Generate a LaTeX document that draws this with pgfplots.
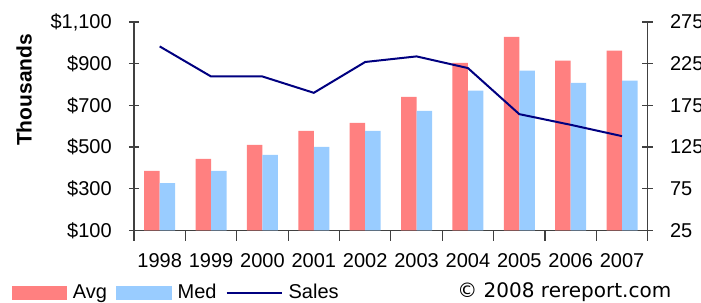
\documentclass[border=0pt]{standalone}
\usepackage{fontspec}
\setmainfont{Liberation Sans}
\newfontfamily\dejavu{DejaVu Sans}
\usepackage{pgfplots}
\pgfplotsset{compat=1.18}
\definecolor{avgc}{HTML}{FF8080}
\definecolor{medc}{HTML}{99CCFF}
\definecolor{salesc}{HTML}{000080}
\definecolor{axc}{HTML}{404040}
\begin{document}
\begin{tikzpicture}
\useasboundingbox (0,0) rectangle (350.5pt,151.5pt);
\begin{axis}[
  at={(67pt,36.35pt)}, anchor=south west,
  width=256.85pt, height=104.15pt, scale only axis,
  xmin=-0.5, xmax=9.5, ymin=100, ymax=1100,
  axis x line*=bottom, axis y line*=left,
  x axis line style={-, axc, line width=0.6pt},
  y axis line style={-, axc, line width=0.6pt},
  tick align=center, major tick length=5.25pt,
  tick style={axc, line width=0.6pt},
  xtick={-0.5,0.5,...,9.5}, xticklabels={},
  extra x ticks={0,1,...,9},
  extra x tick labels={1998,1999,2000,2001,2002,2003,2004,2005,2006,2007},
  extra x tick style={major tick length=0pt, x tick label style={yshift=-8pt}},
  ytick={100,300,500,700,900,1100},
  yticklabels={\$100,\$300,\$500,\$700,\$900,{\$1,100}},
  y tick label style={xshift=-5pt},
  ybar=0pt, bar width=7.75pt,
  clip=true,
]
\addplot[fill=avgc, draw=none] coordinates {(0,385) (1,443) (2,510) (3,577) (4,616) (5,741) (6,904) (7,1029) (8,914) (9,962)};
\addplot[fill=medc, draw=none] coordinates {(0,327) (1,385) (2,462) (3,500) (4,577) (5,673) (6,770) (7,866) (8,808) (9,818)};
\end{axis}
\begin{axis}[
  at={(67pt,36.35pt)}, anchor=south west,
  width=256.85pt, height=104.15pt, scale only axis,
  xmin=-0.5, xmax=9.5, ymin=25, ymax=275,
  axis y line*=right, axis x line=none,
  y axis line style={-, axc, line width=0.6pt},
  tick align=center, major tick length=5.25pt,
  tick style={axc, line width=0.6pt},
  ytick={25,75,125,175,225,275},
  yticklabels={25,75,125,175,225,275},
  y tick label style={xshift=5pt},
  legend style={at={(axis description cs:-0.2375,-0.301)}, anchor=west,
    draw=none, fill=none, inner sep=0pt, outer sep=0pt,
    legend columns=3, nodes={inner sep=0pt}},
]
\addlegendimage{legend image code/.code={\fill[avgc] (0pt,-3.35pt) rectangle (27pt,3.35pt);}}
\addlegendentry{\hspace*{3pt}Avg\hspace*{4.5pt}}
\addlegendimage{legend image code/.code={\fill[medc] (0pt,-3.35pt) rectangle (27.5pt,3.35pt);}}
\addlegendentry{\hspace*{3pt}Med\hspace*{4.5pt}}
\addplot[salesc, line width=1pt, legend image code/.code={\draw[salesc, line width=1pt] (0pt,0pt) -- (27.5pt,0pt);}] coordinates {(0,245.7) (1,209.6) (2,209.6) (3,190) (4,227) (5,233.7) (6,219.7) (7,164.4) (8,151.6) (9,138)};
\addlegendentry{\hspace*{3pt}Sales}
\end{axis}
\node[rotate=90, font=\bfseries\fontsize{10.5}{12}\selectfont] at (12pt,106.5pt) {Thousands};
\node[anchor=base west, inner sep=0pt, font=\dejavu] at (228.5pt,2.5pt) {© 2008 rereport.com};
\end{tikzpicture}
\end{document}
